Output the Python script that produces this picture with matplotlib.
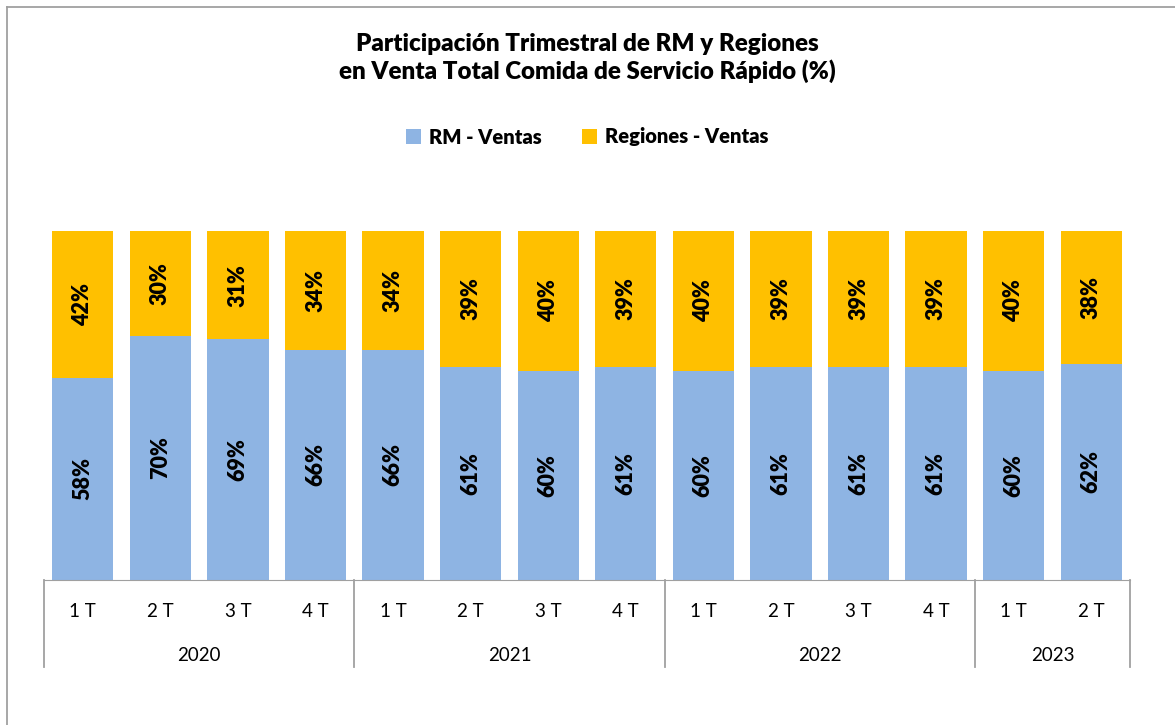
import numpy as np
import matplotlib.pyplot as plt
from matplotlib.lines import Line2D

# data
quarters = ['1 T', '2 T', '3 T', '4 T', '1 T', '2 T', '3 T', '4 T',
            '1 T', '2 T', '3 T', '4 T', '1 T', '2 T']
years = ['2020', '2021', '2022', '2023']
year_counts = [4, 4, 4, 2]
rm_ventas = [58, 70, 69, 66, 66, 61, 60, 61, 60, 61, 61, 61, 60, 62]
regiones_ventas = [42, 30, 31, 34, 34, 39, 40, 39, 40, 39, 39, 39, 40, 38]

plt.rcParams['font.family'] = ['Lato', 'DejaVu Sans']

fig = plt.figure(figsize=(11.75, 7.25), dpi=100)
ax = fig.add_axes([44 / 1175, 1 - 580 / 725, (1130 - 44) / 1175, (580 - 231) / 725])

blue = '#8EB4E3'
gold = '#FFC000'
x = np.arange(len(quarters))
ax.bar(x, rm_ventas, width=0.79, color=blue, label='RM - Ventas')
ax.bar(x, regiones_ventas, width=0.79, bottom=rm_ventas, color=gold, label='Regiones - Ventas')

for i in range(len(x)):
    ax.text(x[i], rm_ventas[i] / 2, f'{rm_ventas[i]}%', rotation=90, ha='center', va='center',
            fontsize=15.5, fontweight='heavy')
    ax.text(x[i], rm_ventas[i] + regiones_ventas[i] / 2, f'{regiones_ventas[i]}%', rotation=90,
            ha='center', va='center', fontsize=15.5, fontweight='heavy')

ax.set_xlim(-0.5, len(x) - 0.5)
ax.set_ylim(0, 100)
ax.set_xticks([])
ax.set_yticks([])
for s in ['top', 'right', 'left']:
    ax.spines[s].set_visible(False)
ax.spines['bottom'].set_color('#A0A0A0')

# two level category axis
trans = ax.get_xaxis_transform()
for i, q in enumerate(quarters):
    ax.text(x[i], -0.09, q, transform=trans, ha='center', va='center', fontsize=13.5)
edges = np.concatenate([[0], np.cumsum(year_counts)]) - 0.5
for e in edges:
    ax.add_line(Line2D([e, e], [0, -0.249], transform=trans, color='#A0A0A0', lw=1.3, clip_on=False))
for k, yr in enumerate(years):
    mid = (edges[k] + edges[k + 1]) / 2
    ax.text(mid, -0.215, yr, transform=trans, ha='center', va='center', fontsize=13.5)

fig.text(0.5, 1 - 58 / 725, 'Participación Trimestral de RM y Regiones\nen Venta Total Comida de Servicio Rápido (%)',
         ha='center', va='center', fontsize=17.4, fontweight='heavy', linespacing=1.25)

leg = fig.legend(loc='center', bbox_to_anchor=(0.5, 1 - 137 / 725), ncol=2, frameon=False,
                 prop={'size': 14.5, 'weight': 'heavy'}, handlelength=0.75, handleheight=0.75,
                 handletextpad=0.4, columnspacing=2.0)

# chart frame
fig.add_artist(Line2D([7 / 1175, 7 / 1175], [0, 1 - 7 / 725], transform=fig.transFigure, color='#A0A0A0', lw=1.3))
fig.add_artist(Line2D([7 / 1175, 1], [1 - 7 / 725, 1 - 7 / 725], transform=fig.transFigure, color='#A0A0A0', lw=1.3))

fig.savefig('out.png', dpi=100, facecolor='white')
